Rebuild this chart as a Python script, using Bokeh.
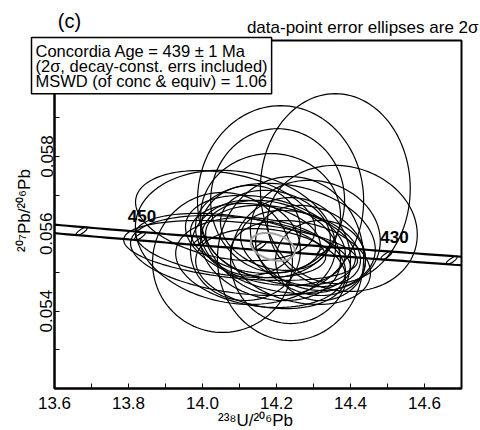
import numpy as np
from bokeh.plotting import figure
from bokeh.models import Range1d, FixedTicker, Label, PrintfTickFormatter
from bokeh.core.properties import value
from bokeh.embed import file_html
from bokeh.resources import INLINE

# ---- decay constants for the Tera-Wasserburg concordia ----
L238 = 1.55125e-10
L235 = 9.8485e-10
U_RATIO = 137.88

# ---- data-point error ellipses (2 sigma): centre, full width, full height, correlation ----
ell_x = [14.359, 14.211, 14.203, 14.184, 14.378, 14.062, 14.103, 14.238, 14.054, 14.238,
         14.089, 14.170, 14.211, 14.184, 14.265, 14.143, 14.224, 14.292, 14.157, 14.197,
         14.265, 14.116, 14.305, 14.184, 14.130, 14.319, 14.076, 14.103]
ell_y = [0.05717, 0.05686, 0.05686, 0.05647, 0.05614, 0.05647, 0.05557, 0.05536, 0.05526, 0.05531,
         0.05591, 0.05583, 0.05570, 0.05557, 0.05562, 0.05588, 0.05588, 0.05557, 0.05526, 0.05609,
         0.05526, 0.05557, 0.05596, 0.05510, 0.05609, 0.05531, 0.05570, 0.05544]
ell_w = [0.405, 0.449, 0.362, 0.378, 0.405, 0.486, 0.632, 0.395, 0.378, 0.324,
         0.541, 0.432, 0.405, 0.378, 0.324, 0.351, 0.486, 0.297, 0.459, 0.297,
         0.378, 0.297, 0.351, 0.405, 0.270, 0.243, 0.514, 0.595]
ell_h = [0.00491, 0.00491, 0.00372, 0.00321, 0.00326, 0.00233, 0.00155, 0.00424, 0.00362, 0.00326,
         0.00347, 0.00233, 0.00207, 0.00259, 0.00197, 0.00181, 0.00285, 0.00233, 0.00233, 0.00207,
         0.00217, 0.00259, 0.00285, 0.00207, 0.00233, 0.00207, 0.00166, 0.00207]
ell_rho = [0.0, 0.0, 0.0, 0.0, -0.1, -0.3, -0.35, 0.0, 0.0, 0.0,
           -0.15, -0.3, -0.3, -0.2, -0.3, -0.2, -0.2, -0.2, -0.2, -0.2,
           -0.25, 0.0, -0.1, -0.2, 0.0, 0.0, -0.35, -0.3]

# ---- concordia age ellipse (grey) ----
conc_age = 439
conc_w = 0.119
conc_h = 0.00072
conc_rho = -0.3

# ---- concordia band ----
band_half = 0.00011
marker_ages = [425, 430, 435, 440, 445, 450, 455]
label_ages = [450, 430]
label_texts = ["450", "430"]

# ---- axes ----
x_lo, x_hi = 13.6, 14.7
y_lo, y_hi = 0.052, 0.061
x_ticks = [13.6, 13.8, 14.0, 14.2, 14.4, 14.6]
x_minor = [13.7, 13.9, 14.1, 14.3, 14.5]
y_ticks = [0.054, 0.056, 0.058]
y_minor = [0.053, 0.055, 0.057, 0.059, 0.060]

FONT = "Liberation Sans"

# ---- layout (pixels on the canvas) ----
W, H = 480, 430
BOX_L, BOX_R, BOX_T, BOX_B = 54, 461, 40, 388


def tera_wasserburg(ages_ma):
    t = np.asarray(ages_ma, dtype=float) * 1e6
    e8 = np.exp(L238 * t) - 1.0
    e5 = np.exp(L235 * t) - 1.0
    return 1.0 / e8, e5 / e8 / U_RATIO


def age_at_x(x):
    return np.log(1.0 + 1.0 / x) / L238 / 1e6


theta = np.linspace(0.0, 2.0 * np.pi, 121)


def ellipse_outline(cx, cy, w, h, rho):
    xs = cx + 0.5 * w * np.cos(theta)
    ys = cy + 0.5 * h * (rho * np.cos(theta) + np.sqrt(1.0 - rho ** 2) * np.sin(theta))
    return xs.tolist(), ys.tolist()


# ranges so that the plot box sits at the chosen pixels while the frame fills the canvas
sx = (x_hi - x_lo) / (BOX_R - BOX_L)
sy = (y_hi - y_lo) / (BOX_B - BOX_T)
x_range = Range1d(x_lo - BOX_L * sx, x_hi + (W - BOX_R) * sx)
y_range = Range1d(y_lo - (H - BOX_B) * sy, y_hi + BOX_T * sy)

p = figure(width=W, height=H, output_backend="svg", toolbar_location=None,
           x_range=x_range, y_range=y_range,
           min_border_left=0, min_border_right=0, min_border_top=0, min_border_bottom=0)
p.background_fill_color = "white"
p.border_fill_color = "white"
p.outline_line_color = None
p.grid.visible = False

# axes placed on the plot box
xa = p.xaxis[0]
ya = p.yaxis[0]
xa.fixed_location = y_lo
ya.fixed_location = x_lo
xa.bounds = (x_lo, x_hi)
ya.bounds = (y_lo, y_hi)
xa.ticker = FixedTicker(ticks=x_ticks, minor_ticks=x_minor)
ya.ticker = FixedTicker(ticks=y_ticks, minor_ticks=y_minor)
xa.formatter = PrintfTickFormatter(format="%.1f")
ya.formatter = PrintfTickFormatter(format="%.3f")
for ax in (xa, ya):
    ax.axis_line_width = 2
    ax.axis_line_color = "black"
    ax.major_tick_in = 5
    ax.major_tick_out = 0
    ax.minor_tick_in = 5
    ax.minor_tick_out = 0
    ax.major_tick_line_color = "black"
    ax.minor_tick_line_color = "black"
    ax.major_label_text_font = FONT
    ax.major_label_text_font_size = "17px"
    ax.major_label_text_color = "black"
xa.major_label_standoff = 8
ya.major_label_standoff = 2
ya.major_label_orientation = "vertical"

# plot box
p.quad(left=[x_lo], right=[x_hi], bottom=[y_lo], top=[y_hi],
       fill_color=None, line_color="black", line_width=2)

# data-point ellipses
exs, eys = [], []
for cx, cy, w, h, r in zip(ell_x, ell_y, ell_w, ell_h, ell_rho):
    a, b = ellipse_outline(cx, cy, w, h, r)
    exs.append(a)
    eys.append(b)
p.multi_line(xs=exs, ys=eys, line_color="black", line_width=1.2)

# concordia band between the box edges
band_ages = np.linspace(age_at_x(x_lo), age_at_x(x_hi), 60)
cx, cy = tera_wasserburg(band_ages)
p.line(cx, cy + band_half, line_color="black", line_width=2.2)
p.line(cx, cy - band_half, line_color="black", line_width=2.2)

# age markers along the concordia
mx, my = tera_wasserburg(marker_ages)
p.ellipse(x=mx, y=my, width=13, height=4, width_units="screen", height_units="screen",
          angle=0.6, fill_color=None, line_color="black", line_width=1.2)

# concordia age ellipse (grey)
gx, gy = tera_wasserburg([conc_age])
ga, gb = ellipse_outline(gx[0], gy[0], conc_w, conc_h, conc_rho)
p.line(ga, gb, line_color="#a0a0a0", line_width=2)

# age labels
lx, ly = tera_wasserburg(label_ages)
p.text(x=lx, y=ly, text=label_texts, x_offset=[2, 8], y_offset=[-20, -18],
       text_font=value(FONT), text_font_style="bold", text_font_size="17px",
       text_align="center", text_baseline="middle", text_color="black")

# result box
p.add_layout(Label(x=31, y=H - 37, x_units="screen", y_units="screen",
                   text="Concordia Age = 439 ± 1 Ma\n(2σ, decay-const. errs included)\nMSWD (of conc & equiv) = 1.06",
                   text_align="left", text_baseline="top", text_font=FONT,
                   text_font_size="16.5px", text_color="black", text_line_height=0.84,
                   background_fill_color="white", border_line_color="black",
                   border_line_width=1.5, padding=4))

# panel tag and subtitle
p.add_layout(Label(x=69, y=H - 20, x_units="screen", y_units="screen", text="(c)",
                   text_align="center", text_baseline="middle", text_font=FONT,
                   text_font_size="20px", text_color="black"))
p.add_layout(Label(x=W - 2, y=H - 26.5, x_units="screen", y_units="screen",
                   text="data-point error ellipses are 2σ",
                   text_align="right", text_baseline="middle", text_font=FONT,
                   text_font_size="17px", text_color="black"))

# axis titles
p.add_layout(Label(x=255, y=1, x_units="screen", y_units="screen",
                   text="²³⁸U/²⁰⁶Pb", text_align="center", text_baseline="bottom",
                   text_font=FONT, text_font_size="17px", text_color="black"))
p.add_layout(Label(x=24, y=H - 210, x_units="screen", y_units="screen",
                   text="²⁰⁷Pb/²⁰⁶Pb", angle=np.pi / 2, text_align="center",
                   text_baseline="middle", text_font=FONT, text_font_size="17px",
                   text_color="black"))

open("out.html", "w").write(file_html(p, INLINE))
